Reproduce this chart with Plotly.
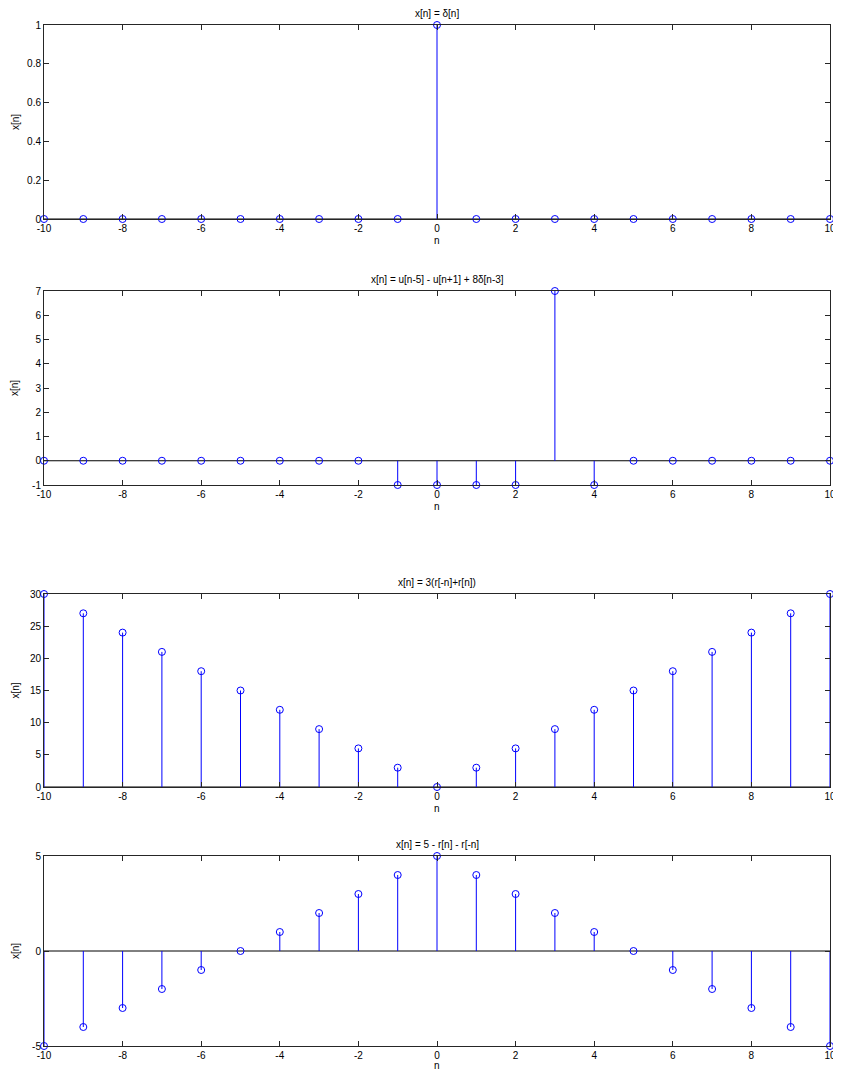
import plotly.graph_objects as go

n = list(range(-10, 11))
x1 = [1 if k == 0 else 0 for k in n]
x2 = [0, 0, 0, 0, 0, 0, 0, 0, 0, -1, -1, -1, -1, 7, -1, 0, 0, 0, 0, 0, 0]
x3 = [30, 27, 24, 21, 18, 15, 12, 9, 6, 3, 0, 3, 6, 9, 12, 15, 18, 21, 24, 27, 30]
x4 = [-5, -4, -3, -2, -1, 0, 1, 2, 3, 4, 5, 4, 3, 2, 1, 0, -1, -2, -3, -4, -5]

titles = ["x[n] = δ[n]", "x[n] = u[n-5] - u[n+1] + 8δ[n-3]",
          "x[n] = 3(r[-n]+r[n])", "x[n] = 5 - r[n] - r[-n]"]
series = [x1, x2, x3, x4]

xticks = list(range(-10, 11, 2))
xticktext = [str(v) for v in xticks]
yticks = [
    [0, 0.2, 0.4, 0.6, 0.8, 1],
    [-1, 0, 1, 2, 3, 4, 5, 6, 7],
    [0, 5, 10, 15, 20, 25, 30],
    [-5, 0, 5],
]
yticktext = [
    ["0", "0.2", "0.4", "0.6", "0.8", "1"],
    ["-1", "0", "1", "2", "3", "4", "5", "6", "7"],
    ["0", "5", "10", "15", "20", "25", "30"],
    ["-5", "0", "5"],
]
yranges = [[0, 1], [-1, 7], [0, 30], [-5, 5]]

OFF = 8  # page body margin on every side
W, H = 841 - 2 * OFF, 1078 - 2 * OFF
# page-pixel layout: (top, bottom) of each axes
boxes = [(25, 219), (291, 485), (594, 787), (856, 1046)]
left_px, right_px = 44, 830
nlabel_gap = [21, 21, 21, 19]

def px_x(p):
    return (p - OFF) / W

def px_y(p):
    return 1 - (p - OFF) / H

FONT = "Liberation Sans, Arial, sans-serif"
fig = go.Figure()
annotations = []
shapes = []

for i, (vals, title) in enumerate(zip(series, titles)):
    idx = "" if i == 0 else str(i + 1)
    xa = "x" + idx
    ya = "y" + idx
    sx, sy = [], []
    for k, v in zip(n, vals):
        sx += [k, k, None]
        sy += [0, v, None]
    fig.add_trace(go.Scatter(x=sx, y=sy, mode="lines", line=dict(color="#0000ff", width=1),
                             xaxis=xa, yaxis=ya, hoverinfo="skip", showlegend=False))
    fig.add_trace(go.Scatter(x=n, y=vals, mode="markers",
                             marker=dict(symbol="circle-open", size=7, color="#0000ff",
                                         line=dict(width=1, color="#0000ff")),
                             xaxis=xa, yaxis=ya, cliponaxis=False, showlegend=False))
    shapes.append(dict(type="line", xref=xa, yref=ya, x0=-10, x1=10, y0=0, y1=0,
                       line=dict(color="black", width=1), layer="below"))
    top, bot = boxes[i]
    dom_y = [px_y(bot), px_y(top)]
    dom_x = [px_x(left_px), px_x(right_px)]
    axcommon = dict(showgrid=False, zeroline=False, showline=True, linecolor="#262626",
                    linewidth=1, mirror="ticks", ticks="inside", ticklen=5, automargin=False,
                    ticklabeloverflow="allow",
                    tickcolor="#262626", tickfont=dict(family=FONT, size=10, color="black"))
    fig.update_layout(**{
        ("xaxis" + idx): dict(domain=dom_x, range=[-10, 10], tickvals=xticks, ticktext=xticktext,
                              anchor=ya, **axcommon),
        ("yaxis" + idx): dict(domain=dom_y, range=yranges[i], tickvals=yticks[i],
                              ticktext=yticktext[i], anchor=xa, **axcommon),
    })
    cx = px_x((left_px + right_px) / 2)
    annotations.append(dict(text=title, x=cx, y=px_y(top - 12), xref="paper", yref="paper",
                            showarrow=False, font=dict(family=FONT, size=10, color="black"),
                            xanchor="center", yanchor="middle"))
    annotations.append(dict(text="n", x=cx, y=px_y(bot + nlabel_gap[i]), xref="paper",
                            yref="paper", showarrow=False,
                            font=dict(family=FONT, size=10, color="black"),
                            xanchor="center", yanchor="middle"))
    annotations.append(dict(text="x[n]", x=px_x(15), y=px_y((top + bot) / 2), xref="paper",
                            yref="paper", showarrow=False, textangle=-90,
                            font=dict(family=FONT, size=10, color="black"),
                            xanchor="center", yanchor="middle"))

fig.update_layout(width=W, height=H, margin=dict(l=0, r=0, t=0, b=0),
                  paper_bgcolor="white", plot_bgcolor="white",
                  annotations=annotations, shapes=shapes, showlegend=False)
fig.write_html("out.html")
